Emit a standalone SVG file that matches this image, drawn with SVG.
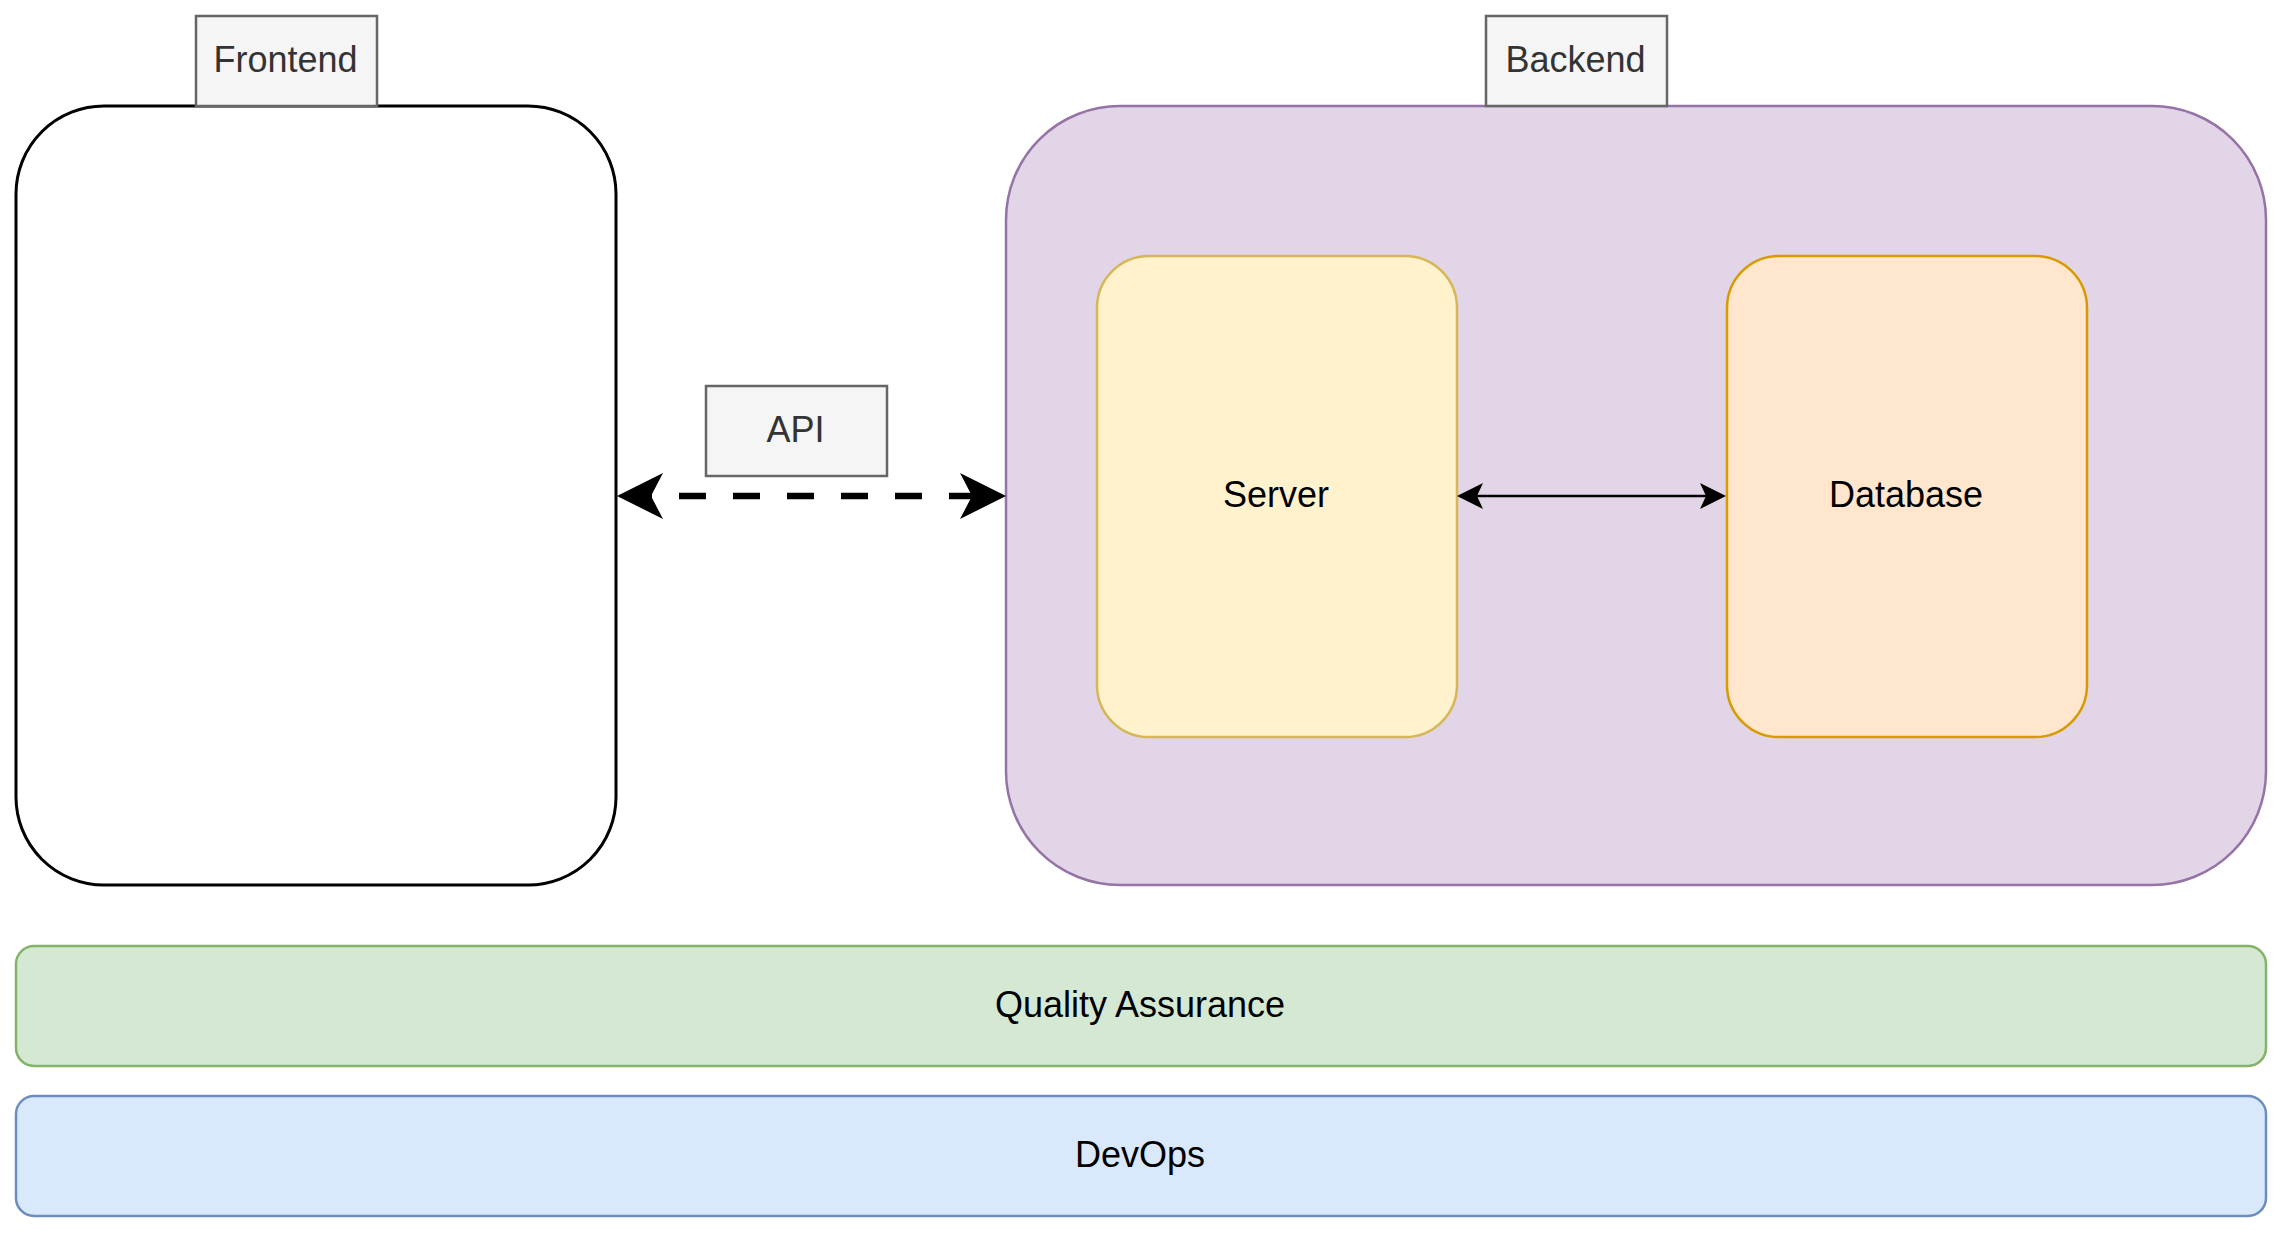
<svg xmlns="http://www.w3.org/2000/svg" width="2283" height="1233" viewBox="0 0 2283 1233">
  <style>
    text { font-family: "Liberation Sans", Arial, Helvetica, sans-serif; font-size: 36px; text-anchor: middle; }
    .lbl rect { fill: #f5f5f5; stroke: #666666; stroke-width: 2.5; }
    .lbl text { fill: #333333; }
    .dark { fill: #000000; }
  </style>
  <defs>
    <marker id="bigArrow" markerUnits="userSpaceOnUse" viewBox="-14 -25 50 50" markerWidth="50" markerHeight="50" refX="0" refY="0" orient="auto-start-reverse">
      <path d="M34,0 L-12,-23 L0,0 L-12,23 Z" fill="#000"/>
    </marker>
    <marker id="smallArrow" markerUnits="userSpaceOnUse" viewBox="-8 -15 30 30" markerWidth="30" markerHeight="30" refX="0" refY="0" orient="auto-start-reverse">
      <path d="M20,0 L-6,-13 L0,0 L-6,13 Z" fill="#000"/>
    </marker>
  </defs>
  <rect width="2283" height="1233" fill="#ffffff"/>

  <g id="frontend">
    <rect x="16" y="106" width="600" height="779" rx="88" ry="88" fill="#ffffff" stroke="#000000" stroke-width="3"/>
  </g>
  <g id="backend">
    <rect x="1006" y="106" width="1260" height="779" rx="114" ry="114" fill="#e1d5e7" stroke="#9673a6" stroke-width="2.5"/>
  </g>
  <g id="server">
    <rect x="1097" y="256" width="360" height="481" rx="52" ry="52" fill="#fff2cc" stroke="#d6b656" stroke-width="2.5"/>
    <text class="dark" x="1276" y="506.5">Server</text>
  </g>
  <g id="database">
    <rect x="1727" y="256" width="360" height="481" rx="52" ry="52" fill="#ffe6cc" stroke="#d79b00" stroke-width="2.5"/>
    <text class="dark" x="1906" y="506.5">Database</text>
  </g>
  <g id="frontend-label" class="lbl">
    <rect x="196" y="16" width="181" height="90"/>
    <text x="285.5" y="72">Frontend</text>
  </g>
  <g id="backend-label" class="lbl">
    <rect x="1486" y="16" width="181" height="90"/>
    <text x="1575.5" y="72">Backend</text>
  </g>
  <g id="api-label" class="lbl">
    <rect x="706" y="386" width="181" height="90"/>
    <text x="795.5" y="442">API</text>
  </g>
  <g id="qa">
    <rect x="16" y="946" width="2250" height="120" rx="18" ry="18" fill="#d5e8d4" stroke="#82b366" stroke-width="2.5"/>
    <text class="dark" x="1140" y="1017">Quality Assurance</text>
  </g>
  <g id="devops">
    <rect x="16" y="1096" width="2250" height="120" rx="18" ry="18" fill="#dae8fc" stroke="#6c8ebf" stroke-width="2.5"/>
    <text class="dark" x="1140" y="1167">DevOps</text>
  </g>

  <g id="connectors">
    <line x1="651" y1="496" x2="972" y2="496" stroke="#000" stroke-width="6.5" stroke-dasharray="27 27" stroke-dashoffset="26" marker-start="url(#bigArrow)" marker-end="url(#bigArrow)"/>
    <line x1="1477" y1="496" x2="1706" y2="496" stroke="#000" stroke-width="2.5" marker-start="url(#smallArrow)" marker-end="url(#smallArrow)"/>
  </g>
</svg>
